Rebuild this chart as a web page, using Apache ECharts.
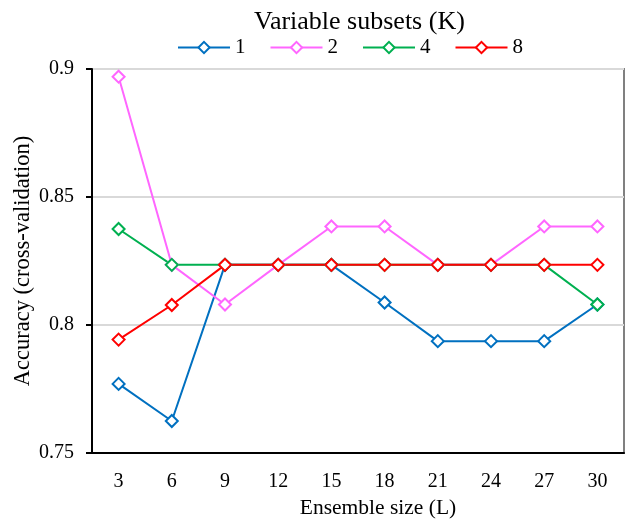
<!DOCTYPE html>
<html>
<head>
<meta charset="utf-8">
<script src="https://cdn.jsdelivr.net/npm/echarts@6/dist/echarts.min.js"></script>
<style>
  html, body { margin: 0; padding: 0; background: #fff; }
  #chart { width: 633px; height: 519px; }
</style>
</head>
<body>
<div id="chart"></div>
<script>
// ensemble sizes on x
let sizes = ["3", "6", "9", "12", "15", "18", "21", "24", "27", "30"];
// accuracy for each number of variable subsets K
let k1 = [0.777, 0.7625, 0.8235, 0.8235, 0.8235, 0.8088, 0.7937, 0.7937, 0.7937, 0.808];
let k2 = [0.897, 0.8235, 0.808, 0.8235, 0.8385, 0.8385, 0.8235, 0.8235, 0.8385, 0.8385];
let k4 = [0.8375, 0.8235, 0.8235, 0.8235, 0.8235, 0.8235, 0.8235, 0.8235, 0.8235, 0.808];
let k8 = [0.7943, 0.8078, 0.8235, 0.8235, 0.8235, 0.8235, 0.8235, 0.8235, 0.8235, 0.8235];
let seriesNames = ["1", "2", "4", "8"];
let seriesColors = ["#0070C0", "#FF66FF", "#00B050", "#FF0000"];

let serif = "'Liberation Serif', 'Times New Roman', serif";

let mkSeries = (name, data, color) => ({
    name: name,
    type: 'line',
    data: data,
    symbol: 'emptyDiamond',
    symbolSize: 12,
    color: color,
    lineStyle: { width: 2, color: color },
    itemStyle: { color: color, borderColor: color, borderWidth: 2 }
});

let chart = echarts.init(document.getElementById('chart'));
let option = {
    animation: false,
    backgroundColor: '#fff',
    textStyle: { fontFamily: serif },
    title: {
        text: 'Variable subsets (K)',
        left: 249,
        top: 4,
        textStyle: { fontFamily: serif, fontSize: 26, fontWeight: 'normal', color: '#000' }
    },
    legend: {
        top: 32,
        left: 172,
        itemWidth: 52,
        itemHeight: 14,
        itemGap: 24,
        textStyle: { fontFamily: serif, fontSize: 21, color: '#000' },
        data: seriesNames
    },
    grid: {
        left: 92, right: 9, top: 69, bottom: 66,
        outerBoundsMode: 'none',
        containLabel: false,
        show: true,
        borderColor: '#808080',
        borderWidth: 2
    },
    xAxis: {
        type: 'category',
        data: sizes,
        boundaryGap: true,
        name: 'Ensemble size (L)',
        nameLocation: 'middle',
        nameGap: 44,
        nameMoveOverlap: false,
        nameTextStyle: { fontFamily: serif, fontSize: 21.5, color: '#000', padding: [0, 0, 0, 40] },
        axisLine: { lineStyle: { color: '#000', width: 2 } },
        axisTick: { alignWithLabel: true, length: 5, lineStyle: { color: '#000', width: 2 } },
        axisLabel: { fontFamily: serif, fontSize: 20, color: '#000', margin: 19 }
    },
    yAxis: {
        type: 'value',
        min: 0.75,
        max: 0.9,
        interval: 0.05,
        name: 'Accuracy (cross-validation)',
        nameLocation: 'middle',
        nameGap: 57,
        nameMoveOverlap: false,
        nameTextStyle: { fontFamily: serif, fontSize: 22.5, color: '#000' },
        axisLine: { show: true, lineStyle: { color: '#000', width: 2 } },
        axisTick: { show: true, length: 6, lineStyle: { color: '#000', width: 2 } },
        axisLabel: { fontFamily: serif, fontSize: 20, color: '#000', margin: 18 },
        splitLine: { lineStyle: { color: '#d9d9d9', width: 2 } }
    },
    series: [
        mkSeries(seriesNames[0], k1, seriesColors[0]),
        mkSeries(seriesNames[1], k2, seriesColors[1]),
        mkSeries(seriesNames[2], k4, seriesColors[2]),
        mkSeries(seriesNames[3], k8, seriesColors[3])
    ]
};
chart.setOption(option);
</script>
</body>
</html>
